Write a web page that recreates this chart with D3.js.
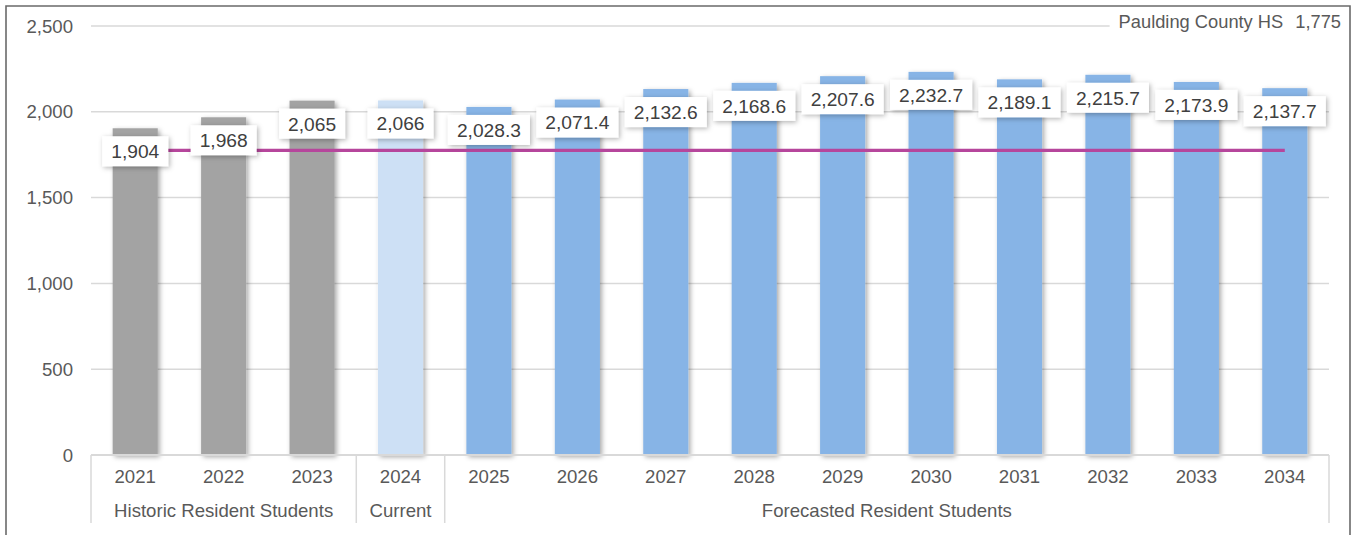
<!DOCTYPE html>
<html>
<head>
<meta charset="utf-8">
<script src="https://cdn.jsdelivr.net/npm/d3@7"></script>
<style>
  html, body { margin: 0; padding: 0; background: #ffffff; }
  svg { display: block; font-family: "Liberation Sans", Arial, sans-serif; }
</style>
</head>
<body>
<svg id="chart" width="1359" height="535"></svg>
<script>
// Resident students by year, grouped into historic / current / forecast
const historicYears = ["2021", "2022", "2023"];
const historicValues = [1904, 1968, 2065];
const currentYears = ["2024"];
const currentValues = [2066];
const forecastYears = ["2025", "2026", "2027", "2028", "2029", "2030", "2031", "2032", "2033", "2034"];
const forecastValues = [2028.3, 2071.4, 2132.6, 2168.6, 2207.6, 2232.7, 2189.1, 2215.7, 2173.9, 2137.7];
const groupNames = ["Historic Resident Students", "Current", "Forecasted Resident Students"];
const capacityName = "Paulding County HS";
const capacityValue = 1775;
const yTicks = [0, 500, 1000, 1500, 2000, 2500];

const colors = { historic: "#A3A3A3", current: "#CDE0F5", forecast: "#87B4E6" };

const bars = [
  ...historicYears.map((y, i) => ({ year: y, value: historicValues[i], group: "historic", fmt: d3.format(",.0f") })),
  ...currentYears.map((y, i) => ({ year: y, value: currentValues[i], group: "current", fmt: d3.format(",.0f") })),
  ...forecastYears.map((y, i) => ({ year: y, value: forecastValues[i], group: "forecast", fmt: d3.format(",.1f") }))
];
const groups = [
  { name: groupNames[0], years: historicYears },
  { name: groupNames[1], years: currentYears },
  { name: groupNames[2], years: forecastYears }
];

const svg = d3.select("#chart");
const plotLeft = 91, plotRight = 1329, plotTop = 26, plotBottom = 455;
const axisFont = 18.6, labelFont = 19.2;

const x = d3.scaleBand()
  .domain(bars.map(d => d.year))
  .range([plotLeft, plotRight])
  .paddingInner(0.49)
  .paddingOuter(0.245);
const step = x.step();
const y = d3.scaleLinear().domain([0, 2500]).range([plotBottom, plotTop]);

// Filters for the soft shadows on bars and labels
const defs = svg.append("defs");
const sh = defs.append("filter").attr("id", "shadow")
  .attr("x", "-30%").attr("y", "-30%").attr("width", "160%").attr("height", "160%");
sh.append("feDropShadow").attr("dx", 2).attr("dy", 2).attr("stdDeviation", 2.5)
  .attr("flood-color", "#000").attr("flood-opacity", 0.35);
const lsh = defs.append("filter").attr("id", "labelShadow")
  .attr("x", "-30%").attr("y", "-40%").attr("width", "160%").attr("height", "180%");
lsh.append("feDropShadow").attr("dx", 1.5).attr("dy", 1.5).attr("stdDeviation", 2.5)
  .attr("flood-color", "#000").attr("flood-opacity", 0.3);

// Chart frame
svg.append("path")
  .attr("d", "M6,545 L6,6 L1350,6 L1350,545")
  .attr("fill", "none").attr("stroke", "#6a6a6a").attr("stroke-width", 1.6);

// Horizontal gridlines and value axis labels
svg.append("g").selectAll("line")
  .data(yTicks.filter(t => t > 0))
  .join("line")
  .attr("x1", plotLeft).attr("x2", plotRight)
  .attr("y1", d => y(d)).attr("y2", d => y(d))
  .attr("stroke", "#D9D9D9").attr("stroke-width", 1.5);

svg.append("g").selectAll("text")
  .data(yTicks)
  .join("text")
  .attr("x", 73).attr("y", d => y(d))
  .attr("dy", "0.35em")
  .attr("text-anchor", "end")
  .attr("font-size", axisFont).attr("fill", "#595959")
  .text(d => d3.format(",")(d));

// Bars
svg.append("g").selectAll("rect")
  .data(bars)
  .join("rect")
  .attr("x", d => x(d.year))
  .attr("width", x.bandwidth())
  .attr("y", d => y(d.value))
  .attr("height", d => y(0) - y(d.value))
  .attr("fill", d => colors[d.group])
  .attr("filter", "url(#shadow)");

// Category axis baseline
svg.append("line")
  .attr("x1", plotLeft).attr("x2", plotRight)
  .attr("y1", plotBottom).attr("y2", plotBottom)
  .attr("stroke", "#D9D9D9").attr("stroke-width", 2);

// Year labels
svg.append("g").selectAll("text")
  .data(bars)
  .join("text")
  .attr("x", d => x(d.year) + x.bandwidth() / 2)
  .attr("y", 483)
  .attr("text-anchor", "middle")
  .attr("font-size", axisFont).attr("fill", "#595959")
  .text(d => d.year);

// Group separators and group labels
const boundaries = [];
groups.forEach((g, i) => {
  const x0 = x(g.years[0]) - (step - x.bandwidth()) / 2;
  const x1 = x(g.years[g.years.length - 1]) + x.bandwidth() + (step - x.bandwidth()) / 2;
  g.x0 = x0; g.x1 = x1;
  if (i === 0) boundaries.push(x0);
  boundaries.push(x1);
});
svg.append("g").selectAll("line")
  .data(boundaries)
  .join("line")
  .attr("x1", d => d).attr("x2", d => d)
  .attr("y1", plotBottom).attr("y2", 523)
  .attr("stroke", "#D9D9D9").attr("stroke-width", 1.5);

svg.append("g").selectAll("text")
  .data(groups)
  .join("text")
  .attr("x", d => (d.x0 + d.x1) / 2)
  .attr("y", 517)
  .attr("text-anchor", "middle")
  .attr("font-size", axisFont).attr("fill", "#595959")
  .text(d => d.name);

// Capacity line across all years
const line = d3.line().x(d => d[0]).y(d => d[1]);
const firstX = x(bars[0].year) + x.bandwidth() / 2;
const lastX = x(bars[bars.length - 1].year) + x.bandwidth() / 2;
svg.append("path")
  .attr("d", line([[firstX, y(capacityValue)], [lastX, y(capacityValue)]]))
  .attr("fill", "none")
  .attr("stroke", "#B6469C")
  .attr("stroke-width", 3.4);

// Value labels inside the bar tops
const labels = svg.append("g").selectAll("g")
  .data(bars)
  .join("g")
  .attr("transform", d => `translate(${x(d.year) + x.bandwidth() / 2},${y(d.value) + 23})`);
labels.append("rect").attr("fill", "#fff").attr("filter", "url(#labelShadow)");
labels.append("text")
  .attr("text-anchor", "middle")
  .attr("dy", "0.36em")
  .attr("font-size", labelFont).attr("fill", "#404040")
  .text(d => d.fmt(d.value));
labels.each(function () {
  const g = d3.select(this);
  const w = g.select("text").node().getComputedTextLength() + 18;
  g.select("rect").attr("x", -w / 2).attr("y", -15).attr("width", w).attr("height", 30);
});

// Capacity legend label in the top-right corner
const leg = svg.append("g");
const legRect = leg.append("rect").attr("fill", "#fff");
const legVal = leg.append("text")
  .attr("x", 1341).attr("y", 22).attr("dy", "0.35em")
  .attr("text-anchor", "end")
  .attr("font-size", 18.3).attr("fill", "#595959")
  .text(d3.format(",")(capacityValue));
const valW = legVal.node().getComputedTextLength();
const legName = leg.append("text")
  .attr("x", 1341 - valW - 12).attr("y", 22).attr("dy", "0.35em")
  .attr("text-anchor", "end")
  .attr("font-size", 18.3).attr("fill", "#595959")
  .text(capacityName);
const nameW = legName.node().getComputedTextLength();
legRect.attr("x", 1341 - valW - 12 - nameW - 9).attr("y", 9)
  .attr("width", valW + 12 + nameW + 9 + 8).attr("height", 27);
</script>
</body>
</html>
